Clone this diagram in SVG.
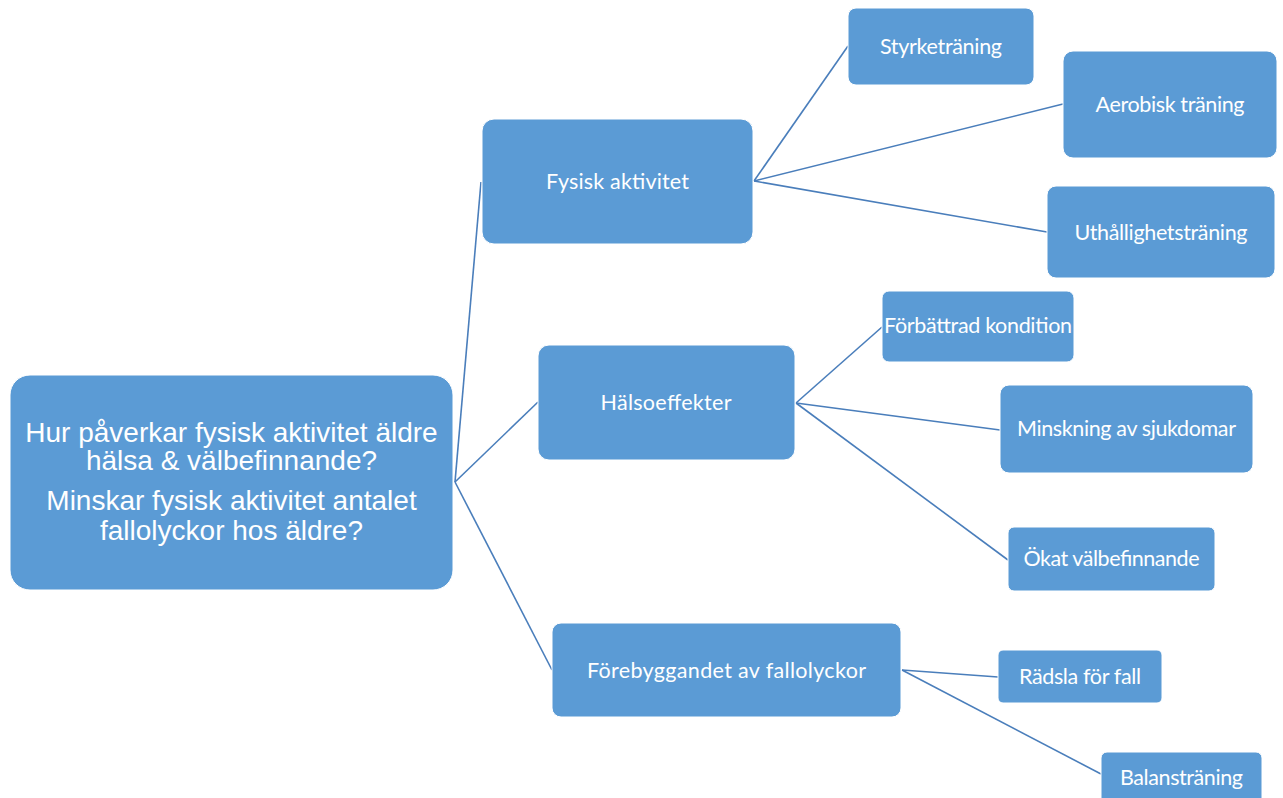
<svg xmlns="http://www.w3.org/2000/svg" width="1283" height="798" viewBox="0 0 1283 798">
<style>
.box{fill:#5B9BD5;stroke:#FFFFFF;stroke-width:1}
.lbl{fill:#FFFFFF;font-family:Lato,"Open Sans","Liberation Sans",sans-serif;font-size:21.5px;text-anchor:middle}
.root{fill:#FFFFFF;font-family:"Liberation Sans",Arial,sans-serif;font-size:28px;text-anchor:middle}
.con{stroke:#4A7EBB;stroke-width:1.6;fill:none}
</style>
<rect width="1283" height="798" fill="#FFFFFF"/>
<g id="connectors">
<line class="con" x1="455" y1="482" x2="481" y2="182"/>
<line class="con" x1="455" y1="482" x2="538" y2="402"/>
<line class="con" x1="455" y1="482" x2="552" y2="670"/>
<line class="con" x1="754" y1="181" x2="848" y2="46"/>
<line class="con" x1="754" y1="181" x2="1063" y2="104"/>
<line class="con" x1="754" y1="181" x2="1047" y2="232"/>
<line class="con" x1="796" y1="403" x2="882" y2="327"/>
<line class="con" x1="796" y1="403" x2="1000" y2="430"/>
<line class="con" x1="796" y1="403" x2="1008" y2="560"/>
<line class="con" x1="902" y1="670" x2="998" y2="677"/>
<line class="con" x1="902" y1="670" x2="1101" y2="774"/>
</g>
<g id="root">
<rect class="box" x="10" y="375" width="443" height="215" rx="20"/>
<text class="root" x="231.5" y="442">Hur påverkar fysisk aktivitet äldre</text>
<text class="root" x="231.5" y="470">hälsa &amp; välbefinnande?</text>
<text class="root" x="231.5" y="510">Minskar fysisk aktivitet antalet</text>
<text class="root" x="231.5" y="540">fallolyckor hos äldre?</text>
</g>
<g id="fysisk">
<rect class="box" x="482" y="119" width="271" height="125" rx="12"/>
<text class="lbl" x="617.5" y="189" textLength="143">Fysisk aktivitet</text>
</g>
<g id="styrke">
<rect class="box" x="848" y="8" width="186" height="77" rx="8"/>
<text class="lbl" x="941" y="54" textLength="122">Styrketräning</text>
</g>
<g id="aerobisk">
<rect class="box" x="1063" y="51" width="214" height="107" rx="10"/>
<text class="lbl" x="1170" y="112" textLength="149">Aerobisk träning</text>
</g>
<g id="uthallighet">
<rect class="box" x="1047" y="186" width="228" height="92" rx="9"/>
<text class="lbl" x="1161" y="240" textLength="173">Uthållighetsträning</text>
</g>
<g id="halso">
<rect class="box" x="538" y="345" width="257" height="115" rx="11"/>
<text class="lbl" x="666" y="410" textLength="131">Hälsoeffekter</text>
</g>
<g id="forbattrad">
<rect class="box" x="882" y="291" width="192" height="71" rx="7"/>
<text class="lbl" x="978" y="333" textLength="188">Förbättrad kondition</text>
</g>
<g id="minskning">
<rect class="box" x="1000" y="385" width="253" height="88" rx="9"/>
<text class="lbl" x="1126.5" y="436" textLength="219">Minskning av sjukdomar</text>
</g>
<g id="okat">
<rect class="box" x="1008" y="527" width="207" height="64" rx="6"/>
<text class="lbl" x="1111.5" y="566" textLength="176">Ökat välbefinnande</text>
</g>
<g id="forebygg">
<rect class="box" x="552" y="623" width="349" height="94" rx="9"/>
<text class="lbl" x="726.5" y="678" textLength="279">Förebyggandet av fallolyckor</text>
</g>
<g id="radsla">
<rect class="box" x="998" y="650" width="164" height="53" rx="5"/>
<text class="lbl" x="1080" y="684" textLength="122">Rädsla för fall</text>
</g>
<g id="balans">
<rect class="box" x="1101" y="752" width="161" height="60" rx="6"/>
<text class="lbl" x="1181.5" y="785" textLength="123">Balansträning</text>
</g>
</svg>
